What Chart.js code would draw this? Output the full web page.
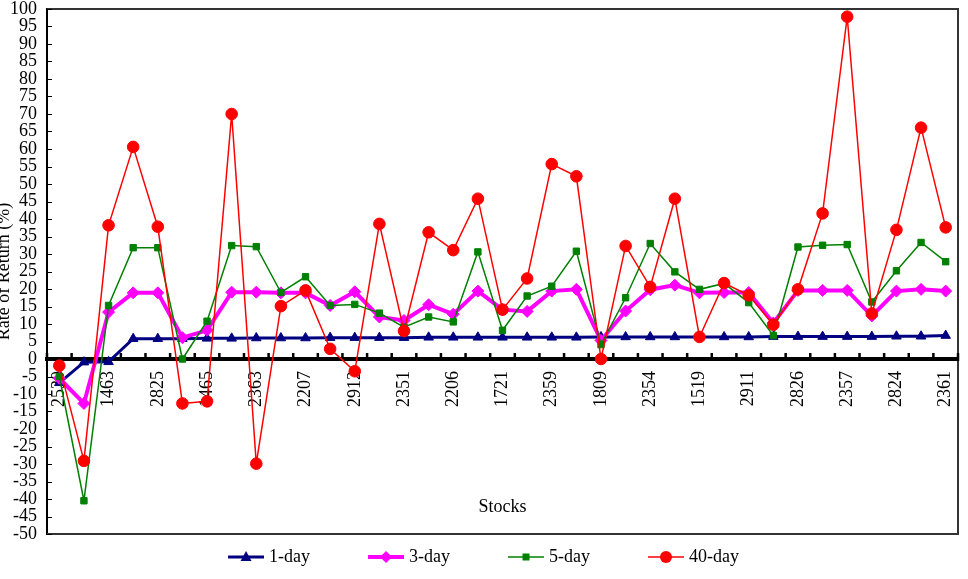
<!DOCTYPE html>
<html>
<head>
<meta charset="utf-8">
<title>Rate of Return by Stock</title>
<script src="https://cdn.jsdelivr.net/npm/chart.js@4.4.1/dist/chart.umd.min.js"></script>
<style>
    html, body { margin: 0; padding: 0; background: #fff; }
    #returnChart { display: block; }
</style>
</head>
<body>
<canvas id="returnChart" width="968" height="579"></canvas>
<script>
// only every other stock code is printed on the axis
var stockLabels = ["2530", "", "1463", "", "2825", "", "1465", "", "2363", "", "2207", "", "2912", "",
    "2351", "", "2206", "", "1721", "", "2359", "", "1809", "", "2354", "", "1519", "", "2911", "",
    "2826", "", "2357", "", "2824", "", "2361"];

var oneDay = [-6.8, -0.9, -0.8, 5.8, 5.8, 5.8, 5.9, 5.9, 6.0, 6.0, 6.0, 6.1, 6.1, 6.1, 6.1, 6.2, 6.2, 6.2, 6.2,
    6.2, 6.2, 6.2, 6.3, 6.3, 6.3, 6.3, 6.3, 6.3, 6.3, 6.4, 6.4, 6.4, 6.4, 6.4, 6.5, 6.5, 6.7];

var threeDay = [-5.5, -12.7, 13.4, 18.9, 18.9, 6.1, 8.2, 19.1, 19.1, 18.9, 18.9, 15.3, 19.2, 12.0, 11.0, 15.5,
    12.8, 19.4, 14.1, 13.6, 19.4, 19.9, 5.3, 13.7, 19.8, 21.1, 18.9, 19.0, 19.0, 10.3, 19.6, 19.6, 19.6, 12.3,
    19.4, 19.9, 19.4];

var fiveDay = [-5.0, -40.5, 15.3, 31.8, 31.8, 0, 10.8, 32.4, 32.1, 19.0, 23.5, 15.3, 15.6, 13.1, 9.1, 12.0,
    10.6, 30.6, 8.2, 18.0, 20.8, 30.8, 4.1, 17.5, 33.0, 24.9, 19.9, 21.6, 16.1, 6.7, 32.0, 32.5, 32.7, 16.3,
    25.2, 33.3, 27.8];

var fortyDay = [-1.9, -29.1, 38.2, 60.6, 37.8, -12.7, -12.1, 70.0, -29.9, 15.1, 19.6, 2.9, -3.5, 38.6, 8.0,
    36.2, 31.1, 45.8, 14.1, 23.0, 55.7, 52.2, 0, 32.3, 20.6, 45.8, 6.3, 21.7, 18.2, 9.8, 19.9, 41.6, 97.8,
    13.0, 36.9, 66.1, 37.6];

var seriesNames = ["1-day", "3-day", "5-day", "40-day"];
var yMin = -50;
var yMax = 100;
var yStep = 5;

(function () {
    "use strict";

    var serif = "'Liberation Serif', 'Times New Roman', serif";

    // line + marker sample, drawn at the right end so the text sits close to it
    function LegendIcon(color, shape, lineWidth) {
        var canvas = document.createElement("canvas");
        canvas.width = 84;
        canvas.height = 16;
        var ctx = canvas.getContext("2d");
        var cx = 66, cy = 8;
        ctx.strokeStyle = color;
        ctx.fillStyle = color;
        ctx.lineWidth = lineWidth;
        ctx.beginPath();
        ctx.moveTo(48, cy);
        ctx.lineTo(84, cy);
        ctx.stroke();
        ctx.beginPath();
        if (shape === "triangle") {
            ctx.moveTo(cx, cy - 6);
            ctx.lineTo(cx + 5.5, cy + 4);
            ctx.lineTo(cx - 5.5, cy + 4);
        } else if (shape === "diamond") {
            ctx.moveTo(cx, cy - 6);
            ctx.lineTo(cx + 6, cy);
            ctx.lineTo(cx, cy + 6);
            ctx.lineTo(cx - 6, cy);
        } else if (shape === "square") {
            ctx.rect(cx - 3.5, cy - 3.5, 7, 7);
        } else {
            ctx.arc(cx, cy, 6, 0, Math.PI * 2);
        }
        ctx.closePath();
        ctx.fill();
        return canvas;
    }

    var legendIcons = [
        LegendIcon("#000080", "triangle", 3),
        LegendIcon("#FF00FF", "diamond", 4),
        LegendIcon("#008000", "square", 1.5),
        LegendIcon("#FF0000", "circle", 1.5)
    ];

    var plotFrame = {
        id: "plotFrame",
        beforeDatasetsDraw: function (chart) {
            var ctx = chart.ctx;
            var area = chart.chartArea;
            var xScale = chart.scales.x;
            var yScale = chart.scales.y;
            var zero = yScale.getPixelForValue(0);
            var half = (xScale.getPixelForValue(1) - xScale.getPixelForValue(0)) / 2;
            var i;

            ctx.save();
            ctx.strokeStyle = "#333";
            ctx.lineWidth = 2;
            ctx.beginPath();
            ctx.moveTo(area.left, area.top);
            ctx.lineTo(area.right, area.top);
            ctx.lineTo(area.right, area.bottom);
            ctx.lineTo(area.left, area.bottom);
            ctx.stroke();

            ctx.strokeStyle = "#000";
            ctx.lineWidth = 1;
            ctx.beginPath();
            yScale.ticks.forEach(function (t) {
                var py = Math.round(yScale.getPixelForValue(t.value)) + 0.5;
                ctx.moveTo(area.left, py);
                ctx.lineTo(area.left + 5, py);
            });
            ctx.stroke();

            ctx.lineWidth = 2.5;
            ctx.beginPath();
            for (i = 0; i <= stockLabels.length; i++) {
                var px = xScale.getPixelForValue(i) - half;
                ctx.moveTo(px, zero - 6);
                ctx.lineTo(px, zero + 2);
            }
            ctx.stroke();
            ctx.restore();
        }
    };

    function Series(index, data, color, width, style, radius, order) {
        return {
            label: seriesNames[index],
            data: data,
            borderColor: color,
            backgroundColor: color,
            borderWidth: width,
            pointStyle: style,
            pointRadius: radius,
            pointBorderWidth: 1,
            pointBackgroundColor: color,
            pointBorderColor: color,
            tension: 0,
            fill: false,
            order: order
        };
    }

    // invisible tick marks keep the labels off the axis without adding edge padding
    var hiddenTicks = {
        display: true,
        drawOnChartArea: false,
        drawTicks: true,
        color: "rgba(0,0,0,0)"
    };

    var ctx = document.getElementById("returnChart");
    var returnChart = new Chart(ctx, {
        type: "line",
        data: {
            labels: stockLabels,
            datasets: [
                Series(0, oneDay, "#000080", 3, "triangle", 5.5, 3),
                Series(1, threeDay, "#FF00FF", 4, "rectRot", 6, 2),
                Series(2, fiveDay, "#008000", 1.5, "rect", 4.5, 1),
                Series(3, fortyDay, "#FF0000", 1.5, "circle", 5.8, 0)
            ]
        },
        options: {
            responsive: false,
            animation: false,
            layout: {
                padding: { left: -35, right: 10, top: 0, bottom: 3 }
            },
            plugins: {
                tooltip: { enabled: false },
                legend: {
                    position: "bottom",
                    labels: {
                        usePointStyle: true,
                        pointStyleWidth: 76,
                        padding: 14,
                        color: "#000",
                        font: { family: serif, size: 18 },
                        generateLabels: function (chart) {
                            return chart.data.datasets.map(function (ds, i) {
                                return {
                                    text: ds.label,
                                    pointStyle: legendIcons[i],
                                    fillStyle: ds.borderColor,
                                    strokeStyle: ds.borderColor,
                                    lineWidth: 0,
                                    fontColor: "#000",
                                    hidden: !chart.isDatasetVisible(i),
                                    datasetIndex: i
                                };
                            });
                        }
                    }
                }
            },
            scales: {
                x: {
                    type: "category",
                    position: { y: 0 },
                    offset: true,
                    grid: Object.assign({ tickLength: 12 }, hiddenTicks),
                    border: { display: true, color: "#000", width: 4 },
                    ticks: {
                        autoSkip: false,
                        minRotation: 90,
                        maxRotation: 90,
                        padding: 0,
                        color: "#000",
                        font: { family: serif, size: 18, lineHeight: 1 }
                    },
                    title: {
                        display: true,
                        text: "Stocks",
                        color: "#000",
                        font: { family: serif, size: 18 },
                        padding: { top: 89, bottom: 0 }
                    }
                },
                y: {
                    min: yMin,
                    max: yMax,
                    grid: Object.assign({ tickLength: 10 }, hiddenTicks),
                    border: { display: true, color: "#000", width: 2 },
                    ticks: {
                        stepSize: yStep,
                        autoSkip: false,
                        padding: 0,
                        color: "#000",
                        font: { family: serif, size: 18, lineHeight: 1 }
                    },
                    title: {
                        display: true,
                        text: "Rate of Return (%)",
                        color: "#000",
                        font: { family: serif, size: 18 },
                        padding: { top: 28, bottom: 0 }
                    },
                    afterFit: function (scale) {
                        scale.width = 82;
                    }
                }
            }
        },
        plugins: [plotFrame]
    });
})();
</script>
</body>
</html>
